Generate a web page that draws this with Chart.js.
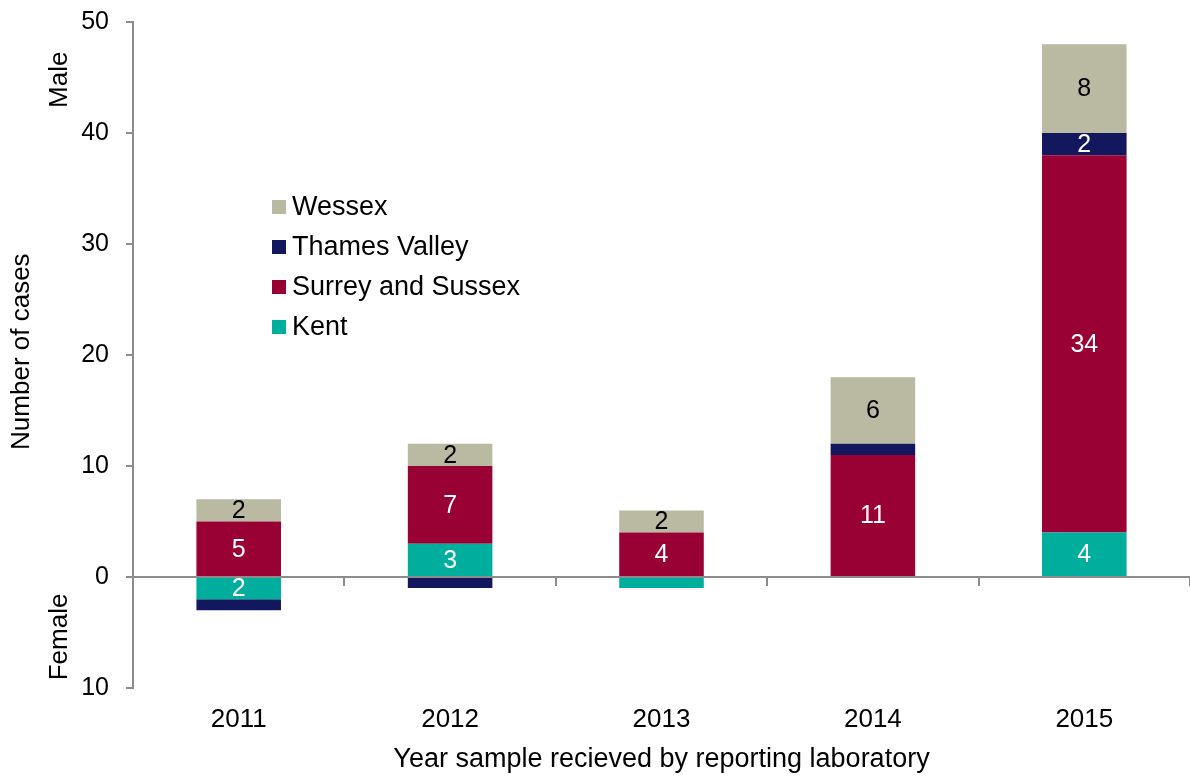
<!DOCTYPE html>
<html>
<head>
<meta charset="utf-8">
<script src="https://cdn.jsdelivr.net/npm/chart.js@4"></script>
<style>
  html, body { margin: 0; padding: 0; background: #fff; }
  #wrap { width: 1190px; height: 776px; }
</style>
</head>
<body>
<div id="wrap"><canvas id="casesChart" width="1190" height="776"></canvas></div>
<script>
// years on the x axis
const years = ['2011', '2012', '2013', '2014', '2015'];

// male cases are positive, female cases negative
const kent = [-2, 3, -1, 0, 4];
const surreySussex = [5, 7, 4, 11, 34];
const thamesValley = [-1, -1, 0, 1, 2];
const wessex = [2, 2, 2, 6, 8];

const yTicks = [-10, 0, 10, 20, 30, 40, 50];

const FONT = '"Liberation Sans", Arial, sans-serif';
const GREY = '#8c8c8c';

// value labels inside the bar segments
const segmentLabels = {
    id: 'segmentLabels',
    afterDatasetsDraw(chart) {
        const ctx = chart.ctx;
        ctx.save();
        ctx.font = '25px ' + FONT;
        ctx.textAlign = 'center';
        ctx.textBaseline = 'middle';
        chart.data.datasets.forEach((ds, di) => {
            const meta = chart.getDatasetMeta(di);
            meta.data.forEach((bar, i) => {
                const v = ds.data[i];
                if (Math.abs(v) < 2) return;
                ctx.fillStyle = ds.labelColor;
                ctx.fillText(String(Math.abs(v)), bar.x, (bar.y + bar.base) / 2 + 1);
            });
        });
        ctx.restore();
    }
};

// legend drawn inside the plot, reversed order
const innerLegend = {
    id: 'innerLegend',
    afterDraw(chart) {
        const ctx = chart.ctx;
        const area = chart.chartArea;
        const x0 = area.left + 139;
        let y = area.top + 185;
        ctx.save();
        ctx.font = '27px ' + FONT;
        ctx.textBaseline = 'middle';
        ctx.textAlign = 'left';
        chart.data.datasets.slice().reverse().forEach(ds => {
            ctx.fillStyle = ds.backgroundColor;
            ctx.fillRect(x0, y - 7, 14, 14);
            ctx.fillStyle = '#000';
            ctx.fillText(ds.label, x0 + 20, y + 1);
            y += 40;
        });
        ctx.restore();
    }
};

// Male / Female side labels and the y title next to the y axis
const sideLabels = {
    id: 'sideLabels',
    afterDraw(chart) {
        const ctx = chart.ctx;
        const ys = chart.scales.y;
        ctx.save();
        ctx.font = '26px ' + FONT;
        ctx.fillStyle = '#000';
        ctx.textAlign = 'center';
        ctx.textBaseline = 'middle';
        [['Male', 60, 44.8], ['Female', 60, -5.4], ['Number of cases', 22, 20.3]].forEach(([txt, x, v]) => {
            ctx.save();
            ctx.translate(x, ys.getPixelForValue(v));
            ctx.rotate(-Math.PI / 2);
            ctx.fillText(txt, 0, 0);
            ctx.restore();
        });
        ctx.restore();
    }
};

function makeSet(label, data, color, labelColor) {
    return {
        label: label,
        data: data,
        backgroundColor: color,
        borderWidth: 0,
        labelColor: labelColor,
        barPercentage: 0.4,
        categoryPercentage: 1.0
    };
}

new Chart(document.getElementById('casesChart'), {
    type: 'bar',
    data: {
        labels: years,
        datasets: [
            makeSet('Kent', kent, '#00AE9E', '#fff'),
            makeSet('Surrey and Sussex', surreySussex, '#990033', '#fff'),
            makeSet('Thames Valley', thamesValley, '#12175E', '#fff'),
            makeSet('Wessex', wessex, '#BAB9A1', '#000')
        ]
    },
    options: {
        responsive: false,
        animation: false,
        layout: { padding: { top: 22, right: 0, left: 0, bottom: 0 } },
        plugins: {
            legend: { display: false },
            tooltip: { enabled: false }
        },
        scales: {
            x: {
                stacked: true,
                grid: { display: false },
                border: { display: false },
                ticks: { color: '#000', font: { family: FONT, size: 26 }, padding: 8 },
                title: {
                    display: true,
                    text: 'Year sample recieved by reporting laboratory',
                    color: '#000',
                    font: { family: FONT, size: 27 },
                    padding: { top: 0, bottom: 0 }
                },
                afterFit(scale) { scale.height = 88; }
            },
            xZero: {
                type: 'category',
                position: { y: 0 },
                offset: true,
                grid: {
                    offset: true,
                    drawOnChartArea: false,
                    drawTicks: true,
                    tickLength: 8,
                    tickColor: GREY,
                    lineWidth: 2
                },
                border: { display: true, color: GREY, width: 2 },
                ticks: { display: false }
            },
            y: {
                stacked: true,
                min: -10,
                max: 50,
                afterBuildTicks(scale) { scale.ticks = yTicks.map(v => ({ value: v })); },
                ticks: {
                    color: '#000',
                    font: { family: FONT, size: 25 },
                    padding: 17,
                    callback: v => String(Math.abs(v))
                },
                grid: {
                    color: ctx => (ctx.tick && ctx.tick.value === 0 ? GREY : 'rgba(0,0,0,0)'),
                    tickColor: GREY,
                    tickLength: 7,
                    lineWidth: 2
                },
                border: { display: true, color: GREY, width: 2 },
                afterFit(scale) {
                    scale.width = 133;
                    scale.paddingTop = 0;
                    scale.paddingBottom = 0;
                }
            }
        }
    },
    plugins: [segmentLabels, innerLegend, sideLabels]
});
</script>
</body>
</html>
